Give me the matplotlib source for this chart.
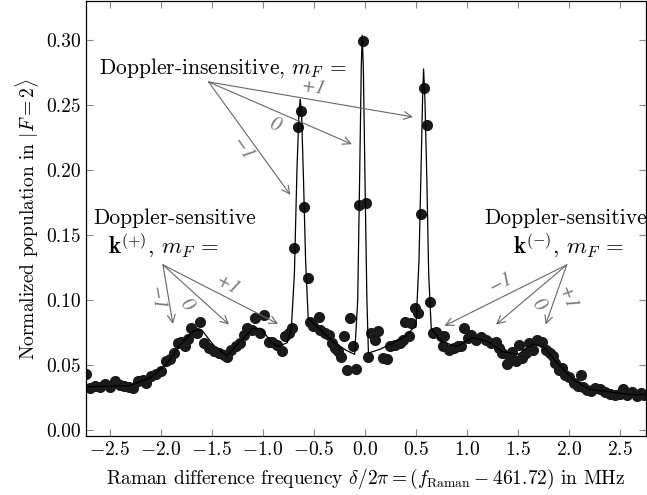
import matplotlib
matplotlib.use('Agg')
import matplotlib.pyplot as plt

plt.rcParams['font.family'] = 'serif'
plt.rcParams['font.serif'] = ['cmr10']
plt.rcParams['mathtext.fontset'] = 'cm'
plt.rcParams['axes.formatter.use_mathtext'] = True
plt.rcParams['font.size'] = 14

# measured points (detuning in MHz, normalized population)
freq = [-2.73, -2.694, -2.645, -2.597, -2.548, -2.500, -2.451, -2.402, -2.354, -2.305,
        -2.273, -2.224, -2.175, -2.142, -2.094, -2.045, -1.996, -1.947, -1.905, -1.866,
        -1.834, -1.801, -1.762, -1.736, -1.704, -1.672, -1.646, -1.613, -1.574, -1.526,
        -1.477, -1.428, -1.380, -1.347, -1.315, -1.266, -1.224, -1.185, -1.152, -1.103,
        -1.071, -1.022, -0.990, -0.942, -0.909, -0.860, -0.811, -0.779, -0.747, -0.714,
        -0.698, -0.656, -0.626, -0.594, -0.561, -0.536, -0.503, -0.445, -0.438, -0.389,
        -0.347, -0.325, -0.292, -0.260, -0.237, -0.205, -0.172, -0.146, -0.114, -0.088,
        -0.058, -0.023, 0.010, 0.032, 0.065, 0.097, 0.130, 0.178, 0.217, 0.243,
        0.292, 0.341, 0.373, 0.389, 0.432, 0.454, 0.487, 0.519, 0.545, 0.575,
        0.611, 0.633, 0.665, 0.698, 0.747, 0.763, 0.779, 0.828, 0.877, 0.909,
        0.941, 0.974, 1.006, 1.038, 1.087, 1.136, 1.185, 1.233, 1.282, 1.315,
        1.347, 1.389, 1.412, 1.444, 1.477, 1.509, 1.542, 1.574, 1.607, 1.646,
        1.688, 1.730, 1.769, 1.808, 1.840, 1.866, 1.899, 1.931, 1.964, 2.003,
        2.045, 2.087, 2.120, 2.140, 2.175, 2.217, 2.256, 2.305, 2.353, 2.402,
        2.451, 2.500, 2.532, 2.565, 2.613, 2.662, 2.704, 2.730]
pop = [0.043, 0.0321, 0.0338, 0.0328, 0.0354, 0.0328, 0.0372, 0.0341, 0.0338, 0.0328,
       0.0321, 0.0372, 0.0385, 0.0359, 0.0415, 0.0431, 0.0449, 0.0526, 0.0544, 0.0590,
       0.0667, 0.0679, 0.0641, 0.0697, 0.0782, 0.0756, 0.0744, 0.0833, 0.0667, 0.0628,
       0.0603, 0.0590, 0.0577, 0.0559, 0.0615, 0.0641, 0.0667, 0.0731, 0.0782, 0.0769,
       0.0859, 0.0744, 0.0885, 0.0679, 0.0679, 0.0654, 0.0603, 0.0718, 0.0744, 0.0782,
       0.1397, 0.2333, 0.2454, 0.1713, 0.1167, 0.0833, 0.0800, 0.0867, 0.0769, 0.0744,
       0.0731, 0.0667, 0.0628, 0.0603, 0.0559, 0.0718, 0.0462, 0.0859, 0.0646, 0.0469,
       0.1730, 0.2995, 0.1744, 0.0559, 0.0744, 0.0692, 0.0762, 0.0551, 0.0544, 0.0641,
       0.0654, 0.0667, 0.0692, 0.0833, 0.0718, 0.0821, 0.0936, 0.0897, 0.1660, 0.2636,
       0.2346, 0.0987, 0.0744, 0.0756, 0.0718, 0.0641, 0.0718, 0.0615, 0.0628, 0.0641,
       0.0641, 0.0782, 0.0705, 0.0731, 0.0692, 0.0710, 0.0692, 0.0667, 0.0679, 0.0628,
       0.0590, 0.0505, 0.0564, 0.0595, 0.0531, 0.0654, 0.0551, 0.0590, 0.0667, 0.0615,
       0.0692, 0.0672, 0.0615, 0.0590, 0.0569, 0.0513, 0.0462, 0.0474, 0.0423, 0.0405,
       0.0359, 0.0338, 0.0423, 0.0328, 0.0308, 0.0295, 0.0321, 0.0313, 0.0287, 0.0277,
       0.0269, 0.0277, 0.0313, 0.0269, 0.0287, 0.0262, 0.0282, 0.0270]

# fitted curve
fit_x = [-2.73, -2.30, -2.10, -1.95, -1.80, -1.68, -1.60, -1.47, -1.35, -1.22, -1.10,
         -1.02, -0.92, -0.85, -0.76, -0.72, -0.69, -0.665, -0.645, -0.633, -0.62, -0.60,
         -0.58, -0.555, -0.45, -0.30, -0.18, -0.10, -0.07, -0.05, -0.035, -0.026, -0.015,
         0.0, 0.02, 0.035, 0.15, 0.276, 0.40, 0.47, 0.50, 0.53, 0.55, 0.565, 0.575,
         0.588, 0.605, 0.625, 0.65, 0.75, 0.90, 1.05, 1.20, 1.35, 1.50, 1.65, 1.75,
         1.90, 2.05, 2.20, 2.40, 2.60, 2.75]
fit_y = [0.033, 0.034, 0.040, 0.050, 0.066, 0.076, 0.077, 0.064, 0.057, 0.068, 0.078,
         0.078, 0.068, 0.064, 0.067, 0.078, 0.12, 0.20, 0.245, 0.2546, 0.245, 0.19,
         0.13, 0.086, 0.078, 0.067, 0.061, 0.058, 0.10, 0.20, 0.28, 0.304, 0.28,
         0.20, 0.10, 0.059, 0.062, 0.0667, 0.072, 0.078, 0.079, 0.13, 0.20, 0.255, 0.278,
         0.255, 0.20, 0.12, 0.078, 0.068, 0.064, 0.071, 0.068, 0.060, 0.058, 0.066, 0.064,
         0.050, 0.038, 0.031, 0.029, 0.027, 0.027]

xticks = [-2.5, -2.0, -1.5, -1.0, -0.5, 0.0, 0.5, 1.0, 1.5, 2.0, 2.5]
yticks = [0.00, 0.05, 0.10, 0.15, 0.20, 0.25, 0.30]

fig = plt.figure(figsize=(6.47, 4.95), dpi=100)
ax = fig.add_axes([0.133, 0.119, 0.865, 0.878])

ax.plot(fit_x, fit_y, color='black', lw=0.9, zorder=3)
ax.plot(freq, pop, 'o', color='#1a1a1a', ms=7, zorder=2)

ax.set_xlim(-2.73, 2.75)
ax.set_ylim(-0.005, 0.33)
ax.set_xticks(xticks)
ax.set_yticks(yticks)
ax.set_xticklabels([f'${t:.1f}$' for t in xticks])
ax.set_yticklabels([f'{t:.2f}' for t in yticks])
ax.tick_params(direction='in', top=True, right=True, length=5, color='#888888', width=0.8)
for s in ax.spines.values():
    s.set_linewidth(0.9)

ax.set_xlabel(r'Raman difference frequency $\delta/2\pi = (f_{\rm Raman} - 461.72)$ in MHz',
              labelpad=6)
ax.set_ylabel(r'Normalized population in $|F=2\rangle$')

arrow = dict(arrowstyle='->', color='#666666', lw=0.8, shrinkA=0, shrinkB=0)
lab = dict(family='STIXGeneral', style='italic', color='#777777', fontsize=15,
           ha='center', va='center')
fs = 15.5

# Doppler-insensitive
ax.text(-1.39, 0.2785, r'Doppler-insensitive, $m_F$ =', ha='center', va='center', fontsize=fs)
o = (-1.53, 0.268)
for end in [(-0.73, 0.181), (-0.127, 0.22), (0.47, 0.241)]:
    ax.annotate('', xy=end, xytext=o, arrowprops=arrow)
ax.text(-0.506, 0.2635, '+1', rotation=-8, **lab)
ax.text(-0.88, 0.235, '0', rotation=-20, **lab)
ax.text(-1.20, 0.216, '\u22121', rotation=-55, **lab)

# Doppler-sensitive k(+)
ax.text(-1.86, 0.163, 'Doppler-sensitive', ha='center', va='center', fontsize=fs)
ax.text(-1.97, 0.142, r'$\mathbf{k}^{(+)}$, $m_F$ =', ha='center', va='center', fontsize=fs + 1)
o = (-1.977, 0.127)
for end in [(-1.88, 0.0815), (-1.33, 0.081), (-0.85, 0.0815)]:
    ax.annotate('', xy=end, xytext=o, arrowprops=arrow)
ax.text(-2.045, 0.1015, '\u22121', rotation=-80, **lab)
ax.text(-1.743, 0.096, '0', rotation=-50, **lab)
ax.text(-1.344, 0.1115, '+1', rotation=-27, **lab)

# Doppler-sensitive k(-)
ax.text(1.967, 0.163, 'Doppler-sensitive', ha='center', va='center', fontsize=fs)
ax.text(1.996, 0.142, r'$\mathbf{k}^{(-)}$, $m_F$ =', ha='center', va='center', fontsize=fs + 1)
o = (1.977, 0.127)
for end in [(0.78, 0.080), (1.285, 0.081), (1.77, 0.081)]:
    ax.annotate('', xy=end, xytext=o, arrowprops=arrow)
ax.text(1.334, 0.113, '\u22121', rotation=28, **lab)
ax.text(1.704, 0.096, '0', rotation=-50, **lab)
ax.text(1.986, 0.1015, '+1', rotation=-70, **lab)

fig.savefig('out.png', dpi=100)
